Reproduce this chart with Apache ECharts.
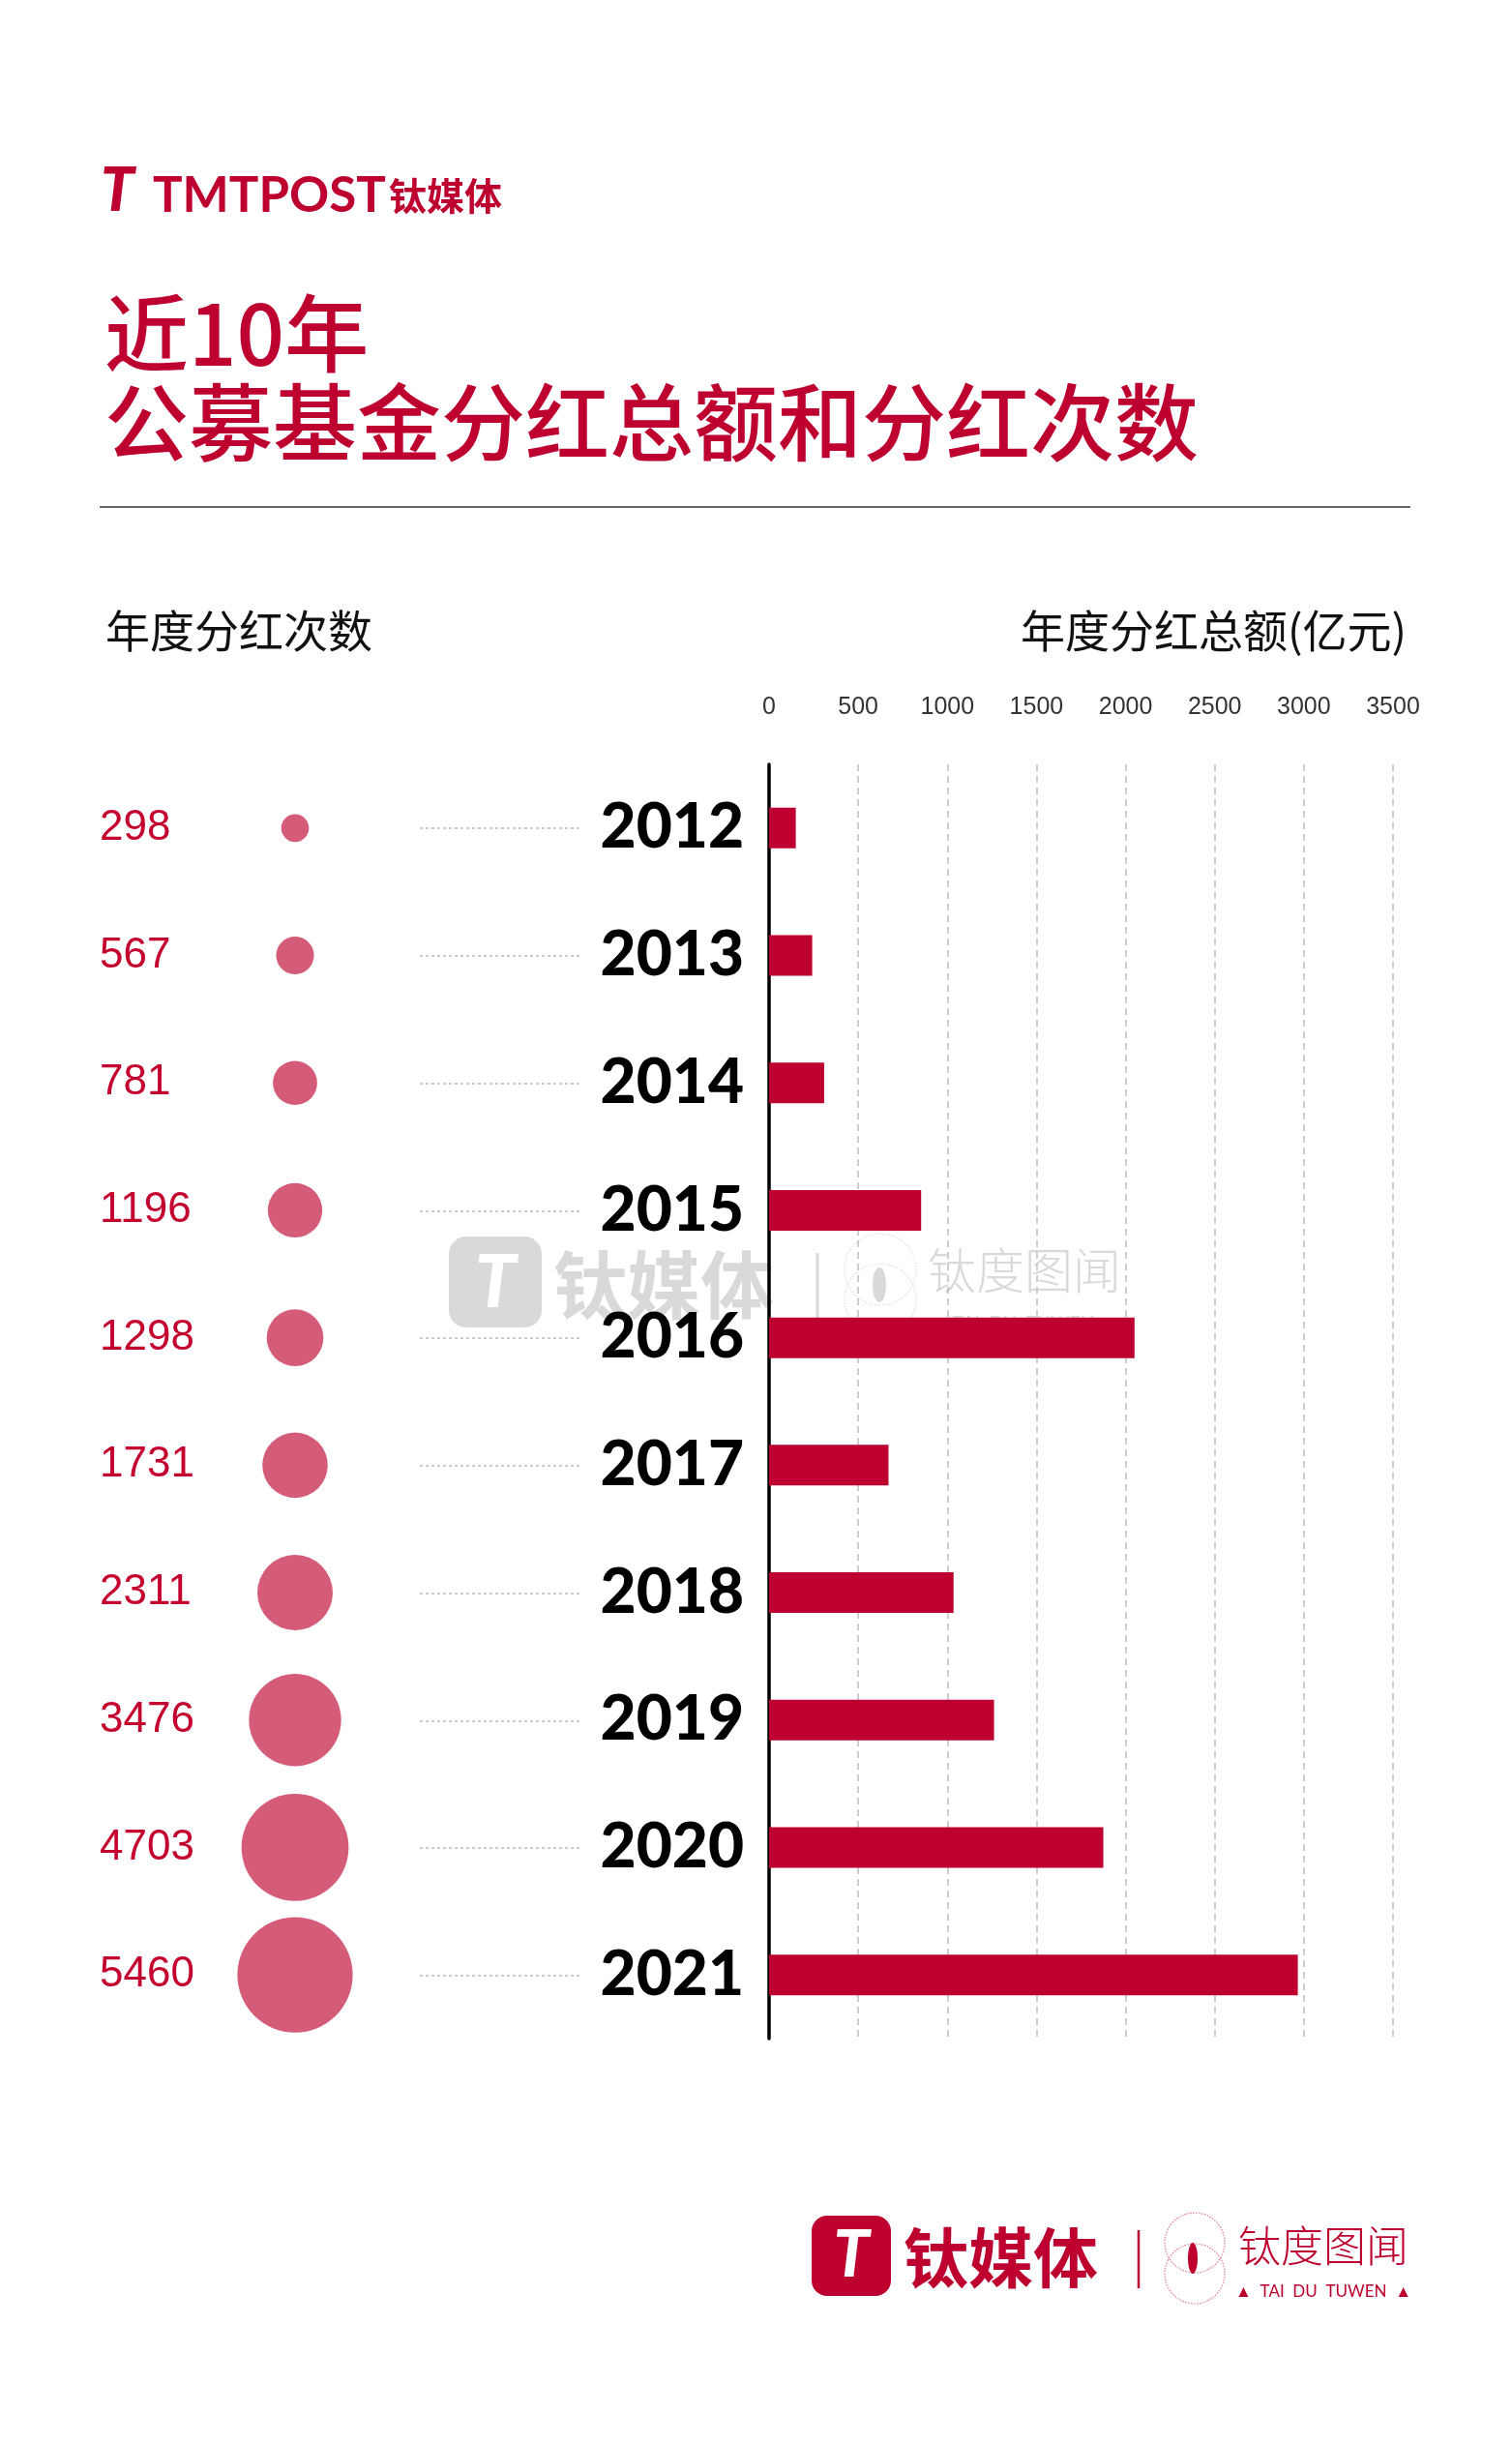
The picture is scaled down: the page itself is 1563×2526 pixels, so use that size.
<!DOCTYPE html>
<html>
<head>
<meta charset="utf-8">
<script src="https://cdn.jsdelivr.net/npm/echarts@6/dist/echarts.min.js"></script>
<style>
html,body{margin:0;padding:0;background:#fff;}
#c{width:1563px;height:2526px;}
</style>
</head>
<body>
<div id="c"></div>
<script>
// ---- data ----
const years = ['2012','2013','2014','2015','2016','2017','2018','2019','2020','2021'];
const dividendAmount = [150, 242, 309, 853, 2050, 670, 1035, 1262, 1875, 2966]; // 亿元
const dividendCount = [298, 567, 781, 1196, 1298, 1731, 2311, 3476, 4703, 5460];
const amountAxis = { min: 0, max: 3500, interval: 500 };

const RED = '#BE0030';
const NUM_RED = '#C4002F';
const BUBBLE = '#D55C78';
const WM = '#d9d9d9';
const CJK = '"Noto Sans CJK SC", sans-serif';
const NARROW = '"Liberation Sans Narrow", "Liberation Sans", Arial, sans-serif';

const chart = echarts.init(document.getElementById('c'), null, { renderer: 'canvas' });

const option = {
  backgroundColor: '#ffffff',
  animation: false,
  title: [
    {
      text: '近10年\n公募基金分红总额和分红次数',
      left: 103, top: 294,
      textStyle: { fontFamily: CJK, fontSize: 87, lineHeight: 92, fontWeight: 500, color: RED }
    },
    {
      text: '年度分红次数',
      left: 104, top: 624,
      textStyle: { fontFamily: CJK, fontSize: 46, lineHeight: 46, fontWeight: 'normal', color: '#111' }
    },
    {
      text: '年度分红总额(亿元)',
      right: 104, top: 624,
      textStyle: { fontFamily: CJK, fontSize: 46, lineHeight: 46, fontWeight: 'normal', color: '#111' }
    }
  ],
  grid: [
    { left: 795, top: 790, width: 645, height: 1317 },   // bars
    { left: 245, top: 790, width: 120, height: 1317 },   // bubbles
    { left: 434, top: 856, width: 168, height: 1186 }    // leader lines
  ],
  xAxis: [
    {
      gridIndex: 0, type: 'value', position: 'top',
      min: amountAxis.min, max: amountAxis.max, interval: amountAxis.interval,
      axisLine: { show: false }, axisTick: { show: false },
      axisLabel: {
        fontSize: 25, color: '#333', margin: 46, fontFamily: '"Liberation Sans", Arial, sans-serif',
        formatter: function (v) { return String(v); }
      },
      splitLine: { show: true, lineStyle: { type: [7, 5], color: '#bdbdbd', width: 1.5 } }
    },
    { gridIndex: 1, type: 'category', data: ['count'], show: false },
    { gridIndex: 2, type: 'value', show: false }
  ],
  yAxis: [
    {
      gridIndex: 0, type: 'category', data: years, inverse: true,
      axisLine: { show: true, lineStyle: { color: '#000', width: 3.5 } },
      axisTick: { show: false },
      axisLabel: { interval: 0, margin: 26, fontSize: 64, fontWeight: 900, fontFamily: 'Lato, "Open Sans", sans-serif', color: '#000' },
      splitLine: { show: false }
    },
    {
      gridIndex: 1, type: 'category', data: years, inverse: true,
      axisLine: { show: false }, axisTick: { show: false },
      axisLabel: {
        interval: 0, align: 'left', margin: 142,
        formatter: function (v, i) { return String(dividendCount[i]); },
        fontSize: 44, fontFamily: NARROW, color: NUM_RED,
        padding: [24, 0, 0, 0]
      },
      splitLine: { show: false }
    },
    {
      gridIndex: 2, type: 'category', data: years, inverse: true, boundaryGap: false,
      axisLine: { show: false }, axisTick: { show: false }, axisLabel: { show: false },
      splitLine: { show: true, interval: 0, lineStyle: { type: [3, 3], color: '#bbbbbb', width: 1.5 } }
    }
  ],
  series: [
    {
      type: 'bar', xAxisIndex: 0, yAxisIndex: 0,
      data: dividendAmount, barWidth: 42,
      itemStyle: { color: RED }, z: 3
    },
    {
      type: 'scatter', xAxisIndex: 1, yAxisIndex: 1,
      data: dividendCount.map(function (v, i) { return [0, i, v]; }),
      symbol: 'circle',
      symbolSize: function (d) { return 1.6 * Math.sqrt(d[2]) + 1; },
      itemStyle: { color: BUBBLE, opacity: 1 }
    }
  ],
  graphic: [
    // divider rule
    { type: 'line', shape: { x1: 103, y1: 524, x2: 1458, y2: 524 }, style: { stroke: '#333', lineWidth: 1.5 } },

    // top logo
    { type: 'text', x: 104, y: 198, style: { text: 'T', font: 'italic 900 62px Lato', fill: RED, verticalAlign: 'middle' } },
    { type: 'text', x: 158, y: 203, style: { text: 'TMTPOST', font: 'bold 51px Lato', fill: RED, verticalAlign: 'middle' } },
    { type: 'text', x: 402, y: 202, style: { text: '钛媒体', font: 'bold 39px "Noto Sans CJK SC"', fill: RED, verticalAlign: 'middle' } },

    // watermark
    { type: 'rect', z: -1, shape: { x: 464, y: 1278, width: 96, height: 94, r: 18 }, style: { fill: WM } },
    { type: 'text', z: -1, x: 512, y: 1326, style: { text: 'T', font: 'italic 900 76px Lato', fill: '#fff', align: 'center', verticalAlign: 'middle' } },
    { type: 'text', z: -1, x: 572, y: 1328, style: { text: '钛媒体', font: 'bold 76px "Noto Sans CJK SC"', fill: WM, verticalAlign: 'middle' } },
    { type: 'line', z: -1, shape: { x1: 845, y1: 1295, x2: 845, y2: 1362 }, style: { stroke: WM, lineWidth: 3 } },
    { type: 'circle', z: -1, shape: { cx: 910, cy: 1312, r: 37 }, style: { fill: 'none', stroke: '#dddddd', lineWidth: 1.2, lineDash: [1.5, 1.5] } },
    { type: 'circle', z: -1, shape: { cx: 910, cy: 1343, r: 37 }, style: { fill: 'none', stroke: '#dddddd', lineWidth: 1.2, lineDash: [1.5, 1.5] } },
    { type: 'ellipse', z: -1, shape: { cx: 909, cy: 1328, rx: 7, ry: 18 }, style: { fill: WM } },
    { type: 'text', z: -1, x: 959, y: 1313, style: { text: '钛度图闻', font: '300 50px "Noto Sans CJK SC"', fill: WM, verticalAlign: 'middle' } },
    { type: 'text', z: -1, x: 1058, y: 1368, style: { text: '▲  TAI  DU  TUWEN  ▲', font: '19px Lato', fill: WM, align: 'center', verticalAlign: 'middle' } },

    // bottom logo
    { type: 'rect', shape: { x: 839, y: 2290, width: 82, height: 83, r: 16 }, style: { fill: RED } },
    { type: 'text', x: 880, y: 2332, style: { text: 'T', font: 'italic 900 66px Lato', fill: '#fff', align: 'center', verticalAlign: 'middle' } },
    { type: 'text', x: 934, y: 2334, style: { text: '钛媒体', font: 'bold 67px "Noto Sans CJK SC"', fill: RED, verticalAlign: 'middle' } },
    { type: 'line', shape: { x1: 1177, y1: 2305, x2: 1177, y2: 2365 }, style: { stroke: RED, lineWidth: 2.5 } },
    { type: 'circle', shape: { cx: 1235, cy: 2318, r: 31 }, style: { fill: 'none', stroke: '#E07A90', lineWidth: 1.2, lineDash: [1.5, 1.5] } },
    { type: 'circle', shape: { cx: 1235, cy: 2350, r: 31 }, style: { fill: 'none', stroke: '#E07A90', lineWidth: 1.2, lineDash: [1.5, 1.5] } },
    { type: 'ellipse', shape: { cx: 1233, cy: 2334, rx: 5, ry: 16 }, style: { fill: RED } },
    { type: 'text', x: 1280, y: 2321, style: { text: '钛度图闻', font: '300 44px "Noto Sans CJK SC"', fill: RED, verticalAlign: 'middle' } },
    { type: 'text', x: 1368, y: 2369, style: { text: '▲  TAI  DU  TUWEN  ▲', font: '17px Lato', fill: RED, align: 'center', verticalAlign: 'middle' } }
  ]
};

chart.setOption(option);
</script>
</body>
</html>
